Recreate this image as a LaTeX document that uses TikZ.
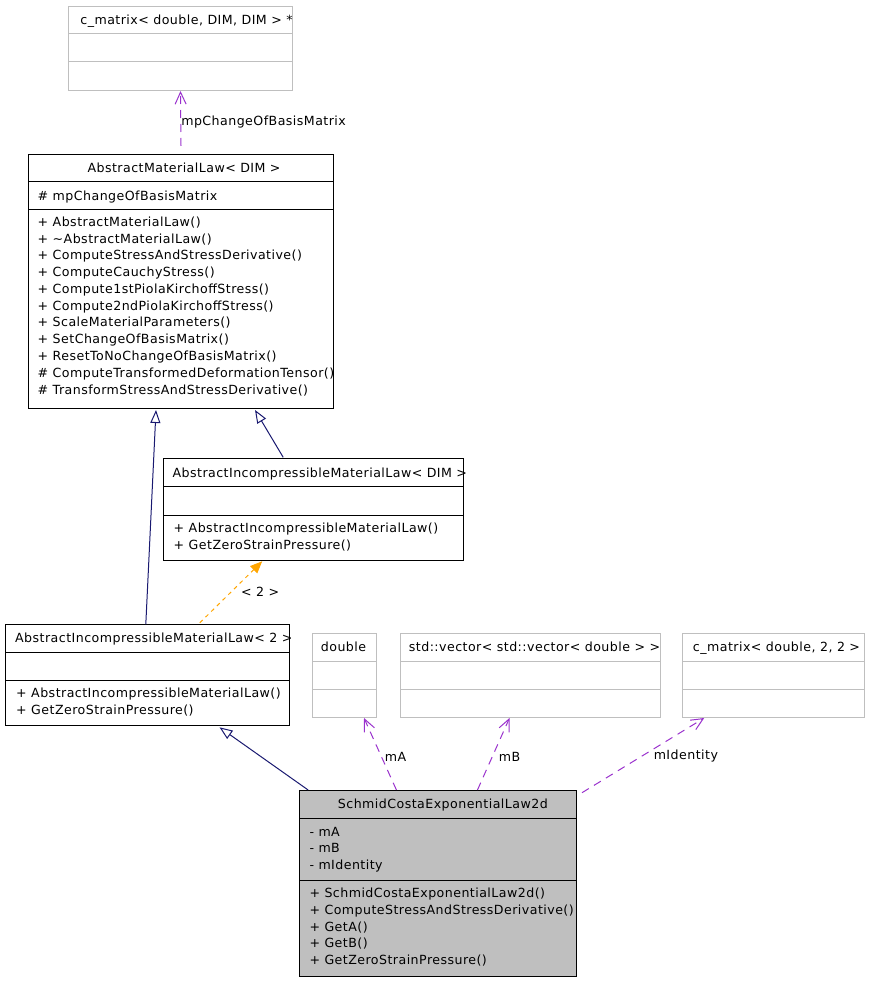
\documentclass[tikz,border=0pt]{standalone}
\usepackage{fontspec}
\setmainfont[LetterSpace=3.6]{DejaVu Sans}
\usetikzlibrary{arrows.meta,calc}
\definecolor{navyline}{HTML}{191970}
\definecolor{useline}{HTML}{9A32CD}
\definecolor{tmplline}{HTML}{FFA500}
\definecolor{graybd}{HTML}{BFBFBF}
\definecolor{grayfill}{HTML}{BFBFBF}
\begin{document}
\begin{tikzpicture}[x=1pt,y=-1pt,
  font=\fontsize{12.6}{15}\selectfont,
  box/.style={draw=black, line width=1pt, inner sep=0pt, anchor=north west},
  extbox/.style={box, draw=graybd},
  sepline/.style={line width=1pt},
  extsep/.style={line width=1pt, draw=graybd},
  txt/.style={inner sep=0pt, anchor=base west},
  ttl/.style={inner sep=0pt, anchor=base},
  inherit/.style={navyline, line width=1pt, -{Triangle[open,length=13pt,width=10pt]}},
  usage/.style={useline, line width=1pt, dash pattern=on 8pt off 6pt, -{Straight Barb[length=12pt,width=11pt]}},
  tmpl/.style={tmplline, line width=1pt, dash pattern=on 4pt off 4pt, -{Triangle[length=12pt,width=10pt]}},
  lbl/.style={inner sep=0pt, anchor=west, fill=none, text=black}
]
\useasboundingbox (0,0) rectangle (869,981);

% ---------- c_matrix< double, DIM, DIM > * ----------
\node[extbox, minimum width=224pt, minimum height=84pt] (cmdim) at (68,6) {};
\draw[extsep] ($(cmdim.north west)+(0,28)$) -- ($(cmdim.north east)+(0,28)$);
\draw[extsep] ($(cmdim.north west)+(0,56)$) -- ($(cmdim.north east)+(0,56)$);
\node[ttl] at ($(cmdim.north)+(6,19)$) {c\_matrix< double, DIM, DIM > *};

% ---------- AbstractMaterialLaw< DIM > ----------
\node[box, minimum width=305pt, minimum height=254pt] (aml) at (28,154) {};
\draw[sepline] ($(aml.north west)+(0,28)$) -- ($(aml.north east)+(0,28)$);
\draw[sepline] ($(aml.north west)+(0,56)$) -- ($(aml.north east)+(0,56)$);
\node[ttl] at ($(aml.north)+(3,18.5)$) {AbstractMaterialLaw< DIM >};
\node[txt] at (37.5,200.5) {\# mpChangeOfBasisMatrix};
\foreach \t [count=\i from 0] in {
  + AbstractMaterialLaw(),
  + \textasciitilde AbstractMaterialLaw(),
  + ComputeStressAndStressDerivative(),
  + ComputeCauchyStress(),
  + Compute1stPiolaKirchoffStress(),
  + Compute2ndPiolaKirchoffStress(),
  + ScaleMaterialParameters(),
  + SetChangeOfBasisMatrix(),
  + ResetToNoChangeOfBasisMatrix(),
  \# ComputeTransformedDeformationTensor(),
  \# TransformStressAndStressDerivative()}
  \node[txt] at (37.5,{226.4+16.76*\i}) {\t};

% ---------- AbstractIncompressibleMaterialLaw< DIM > ----------
\node[box, minimum width=300pt, minimum height=102pt] (aimldim) at (163.3,458.3) {};
\draw[sepline] ($(aimldim.north west)+(0,28.2)$) -- ($(aimldim.north east)+(0,28.2)$);
\draw[sepline] ($(aimldim.north west)+(0,56.7)$) -- ($(aimldim.north east)+(0,56.7)$);
\node[ttl] at ($(aimldim.north)+(6,19)$) {AbstractIncompressibleMaterialLaw< DIM >};
\node[txt] at (173.5,532.4) {+ AbstractIncompressibleMaterialLaw()};
\node[txt] at (173.5,549.7) {+ GetZeroStrainPressure()};

% ---------- AbstractIncompressibleMaterialLaw< 2 > ----------
\node[box, minimum width=284pt, minimum height=101pt] (aiml2) at (5.3,624.3) {};
\draw[sepline] ($(aiml2.north west)+(0,27.7)$) -- ($(aiml2.north east)+(0,27.7)$);
\draw[sepline] ($(aiml2.north west)+(0,55.7)$) -- ($(aiml2.north east)+(0,55.7)$);
\node[ttl] at ($(aiml2.north)+(6,18)$) {AbstractIncompressibleMaterialLaw< 2 >};
\node[txt] at (16,697.4) {+ AbstractIncompressibleMaterialLaw()};
\node[txt] at (16,714.0) {+ GetZeroStrainPressure()};

% ---------- double ----------
\node[extbox, minimum width=64pt, minimum height=84pt] (dbl) at (312,633) {};
\draw[extsep] ($(dbl.north west)+(0,28)$) -- ($(dbl.north east)+(0,28)$);
\draw[extsep] ($(dbl.north west)+(0,56)$) -- ($(dbl.north east)+(0,56)$);
\node[ttl] at ($(dbl.north)+(-1,18.5)$) {double};

% ---------- std::vector< std::vector< double > > ----------
\node[extbox, minimum width=260pt, minimum height=84pt] (vec) at (400,633) {};
\draw[extsep] ($(vec.north west)+(0,28)$) -- ($(vec.north east)+(0,28)$);
\draw[extsep] ($(vec.north west)+(0,56)$) -- ($(vec.north east)+(0,56)$);
\node[ttl] at ($(vec.north)+(4,18.5)$) {std::vector< std::vector< double > >};

% ---------- c_matrix< double, 2, 2 > ----------
\node[extbox, minimum width=182pt, minimum height=84pt] (cm22) at (682,633) {};
\draw[extsep] ($(cm22.north west)+(0,28)$) -- ($(cm22.north east)+(0,28)$);
\draw[extsep] ($(cm22.north west)+(0,56)$) -- ($(cm22.north east)+(0,56)$);
\node[ttl] at ($(cm22.north)+(3,18.5)$) {c\_matrix< double, 2, 2 >};

% ---------- SchmidCostaExponentialLaw2d ----------
\node[box, fill=grayfill, minimum width=276.7pt, minimum height=185.7pt] (schmid) at (299,790) {};
\draw[sepline] ($(schmid.north west)+(0,28)$) -- ($(schmid.north east)+(0,28)$);
\draw[sepline] ($(schmid.north west)+(0,90)$) -- ($(schmid.north east)+(0,90)$);
\node[ttl] at ($(schmid.north)+(5,18.7)$) {SchmidCostaExponentialLaw2d};
\node[txt] at (309.3,836.4) {- mA};
\node[txt] at (309.3,852.8) {- mB};
\node[txt] at (309.3,869.6) {- mIdentity};
\foreach \t [count=\i from 0] in {
  + SchmidCostaExponentialLaw2d(),
  + ComputeStressAndStressDerivative(),
  + GetA(),
  + GetB(),
  + GetZeroStrainPressure()}
  \node[txt] at (309.3,{897.7+16.75*\i}) {\t};

% ---------- connectors ----------
\draw[usage] ([yshift=8pt]aml.north) -- (cmdim.south)
  node[lbl, pos=0.43] {mpChangeOfBasisMatrix};
\draw[inherit] ($(aiml2.north)+(-2,0)$) -- ($(aml.south)+(-25,1)$);
\draw[inherit] ($(aimldim.north)+(-30.6,-1)$) -- ($(aml.south)+(74,1)$);
\draw[tmpl] ($(aiml2.north)+(52,-1.5)$) -- ($(aimldim.south)+(-51.6,0)$)
  node[lbl, pos=0.51, xshift=9pt] {< 2 >};
\draw[inherit] ($(schmid.north)+(-129.7,0)$) -- ($(aiml2.south)+(71.7,1)$);
\draw[usage] ($(schmid.north)+(-41.4,0)$) -- ($(dbl.south)+(19.5,0)$)
  node[lbl, pos=0.466, xshift=3pt] {mA};
\draw[usage] ($(schmid.north)+(39.6,0)$) -- ($(vec.south)+(-21,0)$)
  node[lbl, pos=0.466, xshift=6pt] {mB};
\draw[usage] ($(schmid.north east)+(5.3,2.7)$) -- ($(cm22.south)+(-69.3,0)$)
  node[lbl, pos=0.485, xshift=12pt] {mIdentity};
\end{tikzpicture}
\end{document}
